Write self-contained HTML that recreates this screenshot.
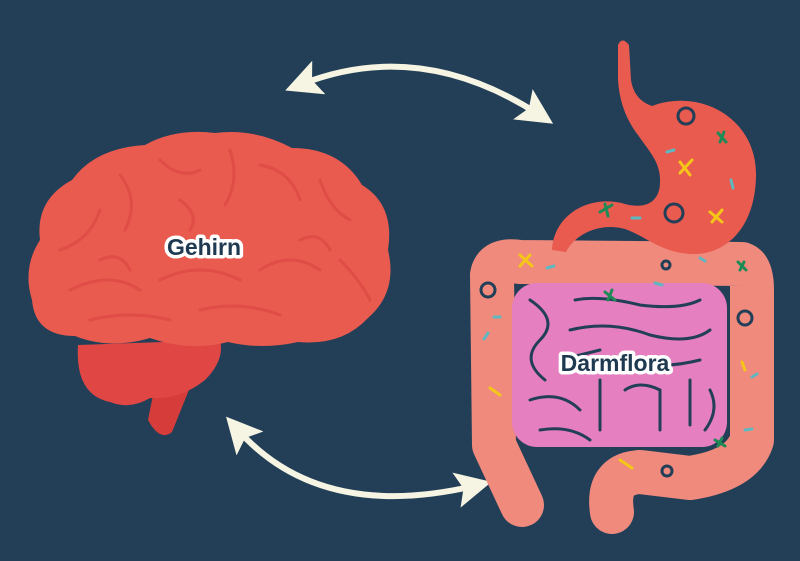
<!DOCTYPE html>
<html><head><meta charset="utf-8"><style>
html,body{margin:0;padding:0;background:#233f58;}
svg{display:block}
text{font-family:"Liberation Sans",sans-serif;font-weight:bold;}
</style></head><body>
<svg width="800" height="561" viewBox="0 0 800 561" xmlns="http://www.w3.org/2000/svg">
<defs>
<marker id="ah" markerWidth="6" markerHeight="6" refX="3" refY="3" orient="auto-start-reverse" markerUnits="strokeWidth">
<path d="M0,0 L6,3 L0,6 L1.2,3 Z" fill="#f6f4e2"/>
</marker>
</defs>
<rect width="800" height="561" fill="#233f58"/>

<!-- arrows -->
<path d="M302,84 Q420,38 538,114" fill="none" stroke="#f6f4e2" stroke-width="6" marker-start="url(#ah)" marker-end="url(#ah)"/>
<path d="M238,430 Q320,522 474,486" fill="none" stroke="#f6f4e2" stroke-width="6" marker-start="url(#ah)" marker-end="url(#ah)"/>

<!-- brain -->
<path d="M148,420 L160,360 L200,345 L195,375 L172,432 Q160,442 148,420 Z" fill="#d63c3a"/>
<path d="M78,345 Q75,395 110,402 Q130,410 150,398 Q180,400 205,380 Q225,360 220,340 Z" fill="#e04744"/>
<path d="M40,240 Q35,200 72,180 Q95,148 145,145 Q175,128 215,133 Q255,128 292,148 Q340,148 362,185 Q395,205 388,250 Q398,292 368,318 Q342,346 298,342 Q262,350 228,342 Q190,352 150,338 Q110,350 75,336 Q35,336 32,300 Q22,268 40,240 Z" fill="#e95a4f"/>
<g fill="none" stroke="#dc4a44" stroke-width="3" stroke-linecap="round" opacity="0.8">
<path d="M60,250 Q90,240 100,210 M120,175 Q140,200 125,230 M160,160 Q180,180 200,170 M230,150 Q240,180 225,205 M260,165 Q290,170 300,200 M320,180 Q330,210 350,220 M70,290 Q110,270 140,290 M160,280 Q200,260 240,280 M260,270 Q290,250 320,270 M340,260 Q360,280 370,300 M90,320 Q130,310 170,320 M200,310 Q240,300 280,315 M300,240 Q320,230 330,250 M100,260 Q120,250 130,270 M180,200 Q200,215 190,230"/>
</g>
<g>
<text x="204" y="255" text-anchor="middle" font-size="23" fill="none" stroke="#ffffff" stroke-width="7" stroke-linejoin="round">Gehirn</text>
<text x="204" y="255" text-anchor="middle" font-size="23" fill="#1f3a50">Gehirn</text>
</g>

<!-- large intestine -->
<path d="M522,505 L494,445 L492,275 Q495,258 520,262 L742,264 Q752,268 752,290 L752,440 Q742,470 690,478 L640,472 Q606,474 612,512" fill="none" stroke="#ef8a7c" stroke-width="44" stroke-linecap="round" stroke-linejoin="round"/>
<!-- small intestine -->
<rect x="512" y="283" width="215" height="164" rx="25" fill="#e57fbf"/>
<g fill="none" stroke="#233f58" stroke-width="3" stroke-linecap="round">
<path d="M530,300 Q560,320 540,340 Q520,360 545,380 M575,300 Q600,295 640,305 Q680,310 700,300 M570,330 Q610,320 650,335 Q690,345 710,330 M560,360 L600,350 M640,360 Q660,370 700,360 M530,400 Q560,390 580,410 M600,380 L600,430 M625,390 Q640,380 660,390 L660,430 M690,380 L690,425 M540,430 Q570,425 590,440 M710,390 Q720,410 705,430"/>
</g>
<!-- stomach -->
<path d="M618,45 Q622,36 629,45 L631,80 Q634,100 652,106 C700,88 757,118 756,176 C755,232 722,256 690,254 C660,252 645,236 625,229 C600,222 575,234 566,252 L552,250 C554,214 590,194 625,204 C648,210 660,200 660,182 C661,162 648,150 638,135 Q620,112 618,80 Z" fill="#e95a4f"/>
<!-- microbes -->
<g fill="none" stroke-width="3" stroke-linecap="round">
<circle cx="686" cy="116" r="8" stroke="#233f58"/>
<circle cx="674" cy="213" r="9" stroke="#233f58"/>
<circle cx="488" cy="290" r="7" stroke="#233f58"/>
<circle cx="745" cy="318" r="7" stroke="#233f58"/>
<circle cx="666" cy="265" r="4" stroke="#233f58"/>
<circle cx="667" cy="471" r="5" stroke="#233f58"/>
<path d="M680,173 L692,160 M690,175 L680,162" stroke="#f5c518"/>
<path d="M712,222 L722,210 M722,222 L710,212" stroke="#f5c518"/>
<path d="M520,255 L532,266 M530,255 L520,266" stroke="#f5c518"/>
<path d="M490,388 L500,395" stroke="#f5c518"/>
<path d="M742,362 L745,370" stroke="#f5c518"/>
<path d="M620,460 L632,468" stroke="#f5c518"/>
<path d="M600,212 L612,205 M605,204 L608,216" stroke="#1e8a55"/>
<path d="M718,133 L726,142 M720,142 L724,132" stroke="#1e8a55"/>
<path d="M605,292 L615,300 M608,300 L612,290" stroke="#1e8a55"/>
<path d="M738,262 L746,270 M740,270 L744,262" stroke="#1e8a55"/>
<path d="M715,440 L725,446 M718,446 L722,438" stroke="#1e8a55"/>
<path d="M667,152 L674,150 M731,180 L733,188 M632,218 L640,218 M547,268 L554,266 M494,317 L500,317 M484,339 L488,333 M655,283 L662,285 M700,258 L705,261 M752,377 L757,374 M745,430 L752,429" stroke="#5fb8c0"/>
</g>
<g>
<text x="615" y="371" text-anchor="middle" font-size="23" fill="none" stroke="#ffffff" stroke-width="7" stroke-linejoin="round">Darmflora</text>
<text x="615" y="371" text-anchor="middle" font-size="23" fill="#1f3a50">Darmflora</text>
</g>
</svg>
</body></html>
